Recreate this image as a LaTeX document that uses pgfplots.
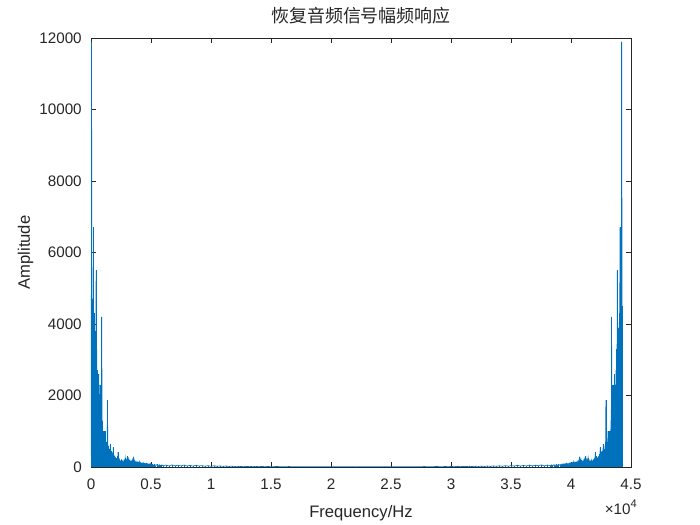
\documentclass[border=0pt]{standalone}
\usepackage{fontspec}
\setmainfont{Liberation Sans}
\newfontfamily\cjk{Noto Sans CJK SC}
\usepackage{pgfplots}
\usepackage{pgfplotstable}
\pgfplotsset{compat=1.18}

\definecolor{mlblue}{RGB}{0,114,189}
\definecolor{mlaxis}{RGB}{38,38,38}

% half spectrum, f in Hz; the other half is its mirror
\pgfplotstableread{
f a
0 300
25 4500
50 11900
75 3800
100 4700
125 3200
150 4100
175 2900
200 6700
225 3600
250 4300
275 2800
300 3900
325 2500
350 3800
375 2200
400 3100
425 5500
450 2400
475 3300
500 1900
525 2700
550 1600
575 2300
600 1500
625 1900
650 2600
675 1400
700 1700
725 1200
750 2300
775 1300
800 1600
825 1000
850 1400
875 2300
900 4200
925 1100
950 1300
975 800
1000 1000
1025 700
1050 900
1075 600
1100 1000
1125 650
1150 800
1175 500
1200 1000
1225 600
1250 700
1275 450
1300 600
1325 400
1350 800
1375 1870
1400 700
1425 450
1450 600
1475 350
1500 500
1525 300
1550 450
1575 350
1600 650
1625 300
1650 400
1675 250
1700 450
1725 300
1750 350
1775 200
1800 300
1825 250
1850 550
1875 200
1900 350
1925 180
1950 300
1975 150
2000 250
2025 180
2050 220
2075 120
2100 200
2125 150
2150 250
2175 120
2200 300
2225 150
2250 420
2275 130
2300 200
2325 110
2350 180
2375 100
2400 160
2425 90
2450 150
2475 100
2500 140
2550 200
2600 90
2650 160
2700 80
2750 180
2800 100
2850 260
2900 90
2950 200
3000 110
3050 300
3100 120
3150 220
3200 100
3250 180
3300 90
3350 160
3400 80
3450 200
3500 100
3550 290
3600 90
3650 170
3700 80
3750 150
3800 70
3850 140
3900 80
3950 130
4000 70
4050 150
4100 60
4150 120
4200 70
4250 110
4300 60
4350 120
4400 55
4450 100
4500 60
4550 95
4600 50
4650 100
4700 55
4750 90
4800 50
4850 85
4900 45
4950 90
5000 50
5100 80
5200 45
5300 75
5400 40
5500 70
5600 40
5700 65
5800 35
5900 60
6000 35
6250 55
6500 30
6750 60
7000 35
7250 50
7500 30
7750 55
8000 28
8250 45
8500 25
8750 50
9000 25
9250 40
9500 22
9750 38
10000 20
10250 35
10500 20
10750 30
11000 18
11250 28
11500 15
11750 25
12000 15
12250 22
12500 12
12750 20
13000 12
13250 18
13500 10
13750 18
14000 10
14250 16
14500 9
14750 15
15000 9
15500 14
16000 8
16500 13
17000 8
17500 12
18000 7
18500 12
19000 7
19500 11
20000 7
20500 10
21000 6
21500 10
22140 6
}\halfspec

\begin{document}
\begin{tikzpicture}
\useasboundingbox (-0.91in,-0.58in) rectangle (6.09in,4.67in);
\begin{axis}[
  at={(0,0)}, anchor=south west,
  scale only axis,
  width=5.4in, height=4.29in,
  xmin=0, xmax=45000,
  ymin=0, ymax=12000,
  scaled ticks=false,
  xtick={0,5000,10000,15000,20000,25000,30000,35000,40000,45000},
  xticklabels={0,0.5,1,1.5,2,2.5,3,3.5,4,4.5},
  ytick={0,2000,4000,6000,8000,10000,12000},
  yticklabels={0,2000,4000,6000,8000,10000,12000},
  tick align=inside,
  major tick length=0.055in,
  xtick pos=both, ytick pos=both,
  axis line style={mlaxis, line width=0.5pt},
  every tick/.style={mlaxis, line width=0.5pt},
  tick label style={font=\fontsize{11}{13}\selectfont, text=mlaxis, inner sep=0pt},
  xticklabel style={yshift=-0.12in},
  yticklabel style={xshift=-0.09in},
  title={\cjk 恢复音频信号幅频响应},
  title style={at={(0.5,1)}, anchor=base, yshift=0.07in,
    font=\fontsize{13}{15}\selectfont, text=mlaxis},
]
\addplot[ycomb, draw=mlblue, line width=0.45pt, mark=none] table[x=f, y=a] {\halfspec};
\addplot[sharp plot, draw=mlblue, line width=0.45pt, mark=none] table[x=f, y=a] {\halfspec};
\addplot[ycomb, draw=mlblue, line width=0.45pt, mark=none] table[x expr=44280-\thisrow{f}, y=a] {\halfspec};
\addplot[sharp plot, draw=mlblue, line width=0.45pt, mark=none] table[x expr=44280-\thisrow{f}, y=a] {\halfspec};
\end{axis}
\node[anchor=base, font=\fontsize{12}{14}\selectfont, text=mlaxis] at (2.7in,-0.5in) {Frequency/Hz};
\node[anchor=base, rotate=90, font=\fontsize{12}{14}\selectfont, text=mlaxis] at (-0.61in,2.145in) {Amplitude};
\node[anchor=base east, font=\fontsize{11}{13}\selectfont, text=mlaxis, inner sep=0pt] at (5.46in,-0.47in) {×10\raisebox{0.75ex}{\fontsize{8}{8}\selectfont 4}};
\end{tikzpicture}
\end{document}
